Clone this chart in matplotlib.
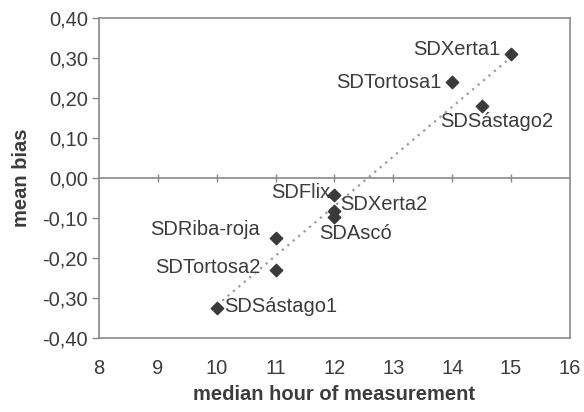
import numpy as np
import matplotlib
matplotlib.use('Agg')
from matplotlib import pyplot as plt

plt.rcParams['font.family'] = ['Liberation Sans', 'DejaVu Sans']

sites = ['SDXerta1', 'SDTortosa1', 'SDSástago2', 'SDFlix', 'SDXerta2',
         'SDAscó', 'SDRiba-roja', 'SDTortosa2', 'SDSástago1']
hours = [15, 14, 14.5, 12, 12, 12, 11, 11, 10]
bias = [0.31, 0.24, 0.18, -0.043, -0.083, -0.097, -0.15, -0.23, -0.325]

# label offsets in points and alignment
offsets = [(-8, 3, 'right'), (-8, 0, 'right'), (-30, -11, 'left'), (-3, 2, 'right'),
           (4, 5, 'left'), (-11, -12, 'left'), (-11, 6, 'right'), (-11, 2, 'right'),
           (5, 1, 'left')]

xticks = [8, 9, 10, 11, 12, 13, 14, 15, 16]
yticks = [-0.4, -0.3, -0.2, -0.1, 0.0, 0.1, 0.2, 0.3, 0.4]

text_col = '#3c3c3c'
axis_col = '#8a8a8a'
fs = 14.5

fig = plt.figure(figsize=(5.84, 4.12), dpi=100)
ax = fig.add_axes([0.1695, 0.180, 0.8065, 0.776])

# trendline
k, b = np.polyfit(hours, bias, 1)
xs = np.array([min(hours), max(hours)])
ax.plot(xs, k * xs + b, linestyle=(0, (1, 2.2)), color='#9a9a9a', lw=1.6, zorder=2)

ax.scatter(hours, bias, marker='D', s=40, color='#3a3a3a', zorder=3)

for name, x, y, (dx, dy, ha) in zip(sites, hours, bias, offsets):
    ax.annotate(name, (x, y), xytext=(dx, dy), textcoords='offset points',
                ha=ha, va='center', fontsize=fs, color=text_col, zorder=4)

ax.set_xlim(8, 16)
ax.set_ylim(-0.4, 0.4)
ax.set_xticks(xticks)
ax.set_yticks(yticks)
ax.set_xticklabels([str(t) for t in xticks])
ax.set_yticklabels([f'{t:.2f}'.replace('.', ',') for t in yticks])
ax.tick_params(axis='x', length=0, pad=15, labelsize=fs, labelcolor=text_col)
ax.tick_params(axis='y', length=5, direction='out', width=1, color=axis_col,
               pad=3, labelsize=fs, labelcolor=text_col)
for sp in ax.spines.values():
    sp.set_color(axis_col)
    sp.set_linewidth(1.2)

# x axis crossing at zero, with tick marks
sec = ax.secondary_xaxis(0.5)
sec.set_xticks(xticks[1:-1])
sec.tick_params(axis='x', direction='inout', length=6, width=1, color=axis_col,
                labelbottom=False, labeltop=False)
for sp in sec.spines.values():
    sp.set_color(axis_col)
    sp.set_linewidth(1.2)

ax.set_xlabel('median hour of measurement', fontsize=fs, fontweight='bold',
              color=text_col, labelpad=5)
ax.set_ylabel('mean bias', fontsize=fs, fontweight='bold', color=text_col, labelpad=8)

fig.savefig('out.png', dpi=100)
